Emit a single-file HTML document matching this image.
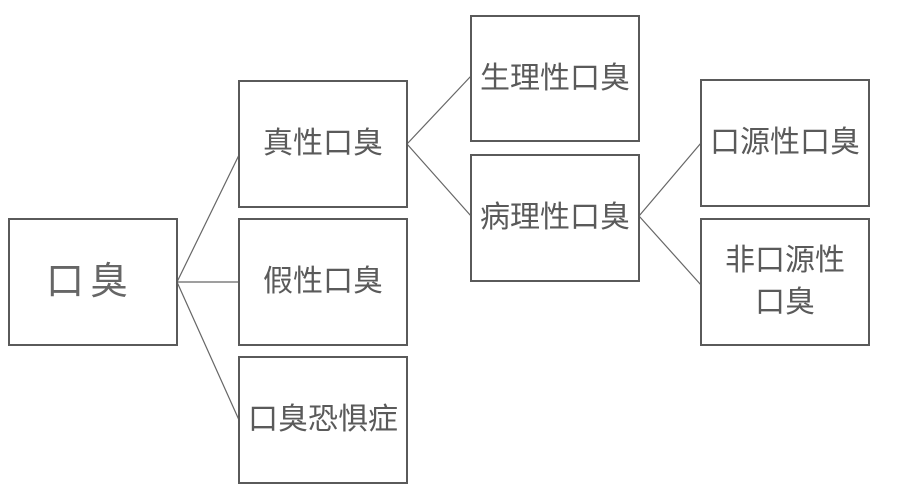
<!DOCTYPE html>
<html><head><meta charset="utf-8"><style>
body{margin:0;width:900px;height:500px;background:#fff;overflow:hidden;position:relative;font-family:"Liberation Sans","Noto Sans CJK SC",sans-serif;}
.b{position:absolute;box-sizing:border-box;border:2px solid #5a5a5a;display:flex;align-items:center;justify-content:center;text-align:center;color:#5a5a5a;font-size:30px;line-height:42px;background:#fff;}
svg{position:absolute;left:0;top:0}
</style></head><body>
<svg width="900" height="500"><g stroke="#666" stroke-width="1.2" fill="none">
<line x1="177" y1="282" x2="239" y2="155"/><line x1="177" y1="282" x2="239" y2="282"/><line x1="177" y1="282" x2="239" y2="420"/>
<line x1="407" y1="144" x2="471" y2="76"/><line x1="407" y1="144" x2="471" y2="216"/>
<line x1="639" y1="216" x2="701" y2="143"/><line x1="639" y1="216" x2="701" y2="285"/>
</g></svg>
<div class="b" style="left:8px;top:218px;width:170px;height:128px;font-size:38px;letter-spacing:6px;color:#666;text-indent:-6px">口臭</div>
<div class="b" style="left:238px;top:80px;width:170px;height:128px">真性口臭</div>
<div class="b" style="left:238px;top:218px;width:170px;height:128px">假性口臭</div>
<div class="b" style="left:238px;top:356px;width:170px;height:128px">口臭恐惧症</div>
<div class="b" style="left:470px;top:15px;width:170px;height:127px">生理性口臭</div>
<div class="b" style="left:470px;top:154px;width:170px;height:128px">病理性口臭</div>
<div class="b" style="left:700px;top:79px;width:170px;height:128px">口源性口臭</div>
<div class="b" style="left:700px;top:218px;width:170px;height:128px">非口源性<br>口臭</div>
</body></html>
